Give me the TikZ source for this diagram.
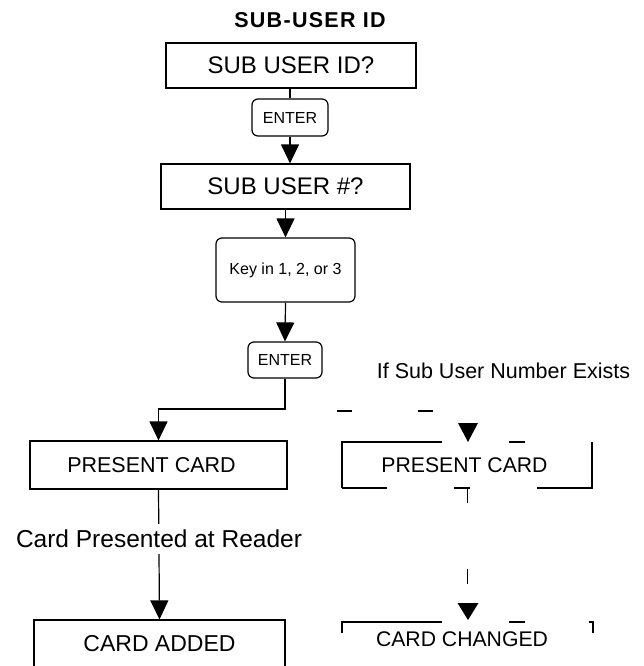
\documentclass[tikz,border=0pt]{standalone}
\usepackage{fontspec}
\setmainfont{Liberation Sans}
\usetikzlibrary{arrows.meta}
\tikzset{
  box/.style={draw, line width=1.2pt, inner sep=0pt, align=center},
  rbox/.style={box, rounded corners=6pt},
  conn/.style={line width=1.2pt},
  arr/.style={conn, -{Triangle[width=18pt,length=19pt]}},
  frag/.style={line width=1.2pt},
  plain/.style={inner sep=0pt, align=center},
}
\newcommand{\fs}[1]{\fontsize{#1}{#1}\selectfont}
\begin{document}
\begin{tikzpicture}[x=1pt,y=-1pt]
\useasboundingbox (0,0) rectangle (643,666);
\clip (0,0) rectangle (643,666);
% title
\node[plain] (title) at (310,20) {\fs{21.5}\addfontfeature{LetterSpace=6}\bfseries SUB-USER ID};
% left chain
\node[box, minimum width=250pt, minimum height=45pt] (b1) at (291,65.5) {\fs{24}SUB USER ID?};
\node[rbox, minimum width=76pt, minimum height=37pt] (e1) at (290,117.5) {\fs{16}ENTER};
\node[box, minimum width=249pt, minimum height=45pt] (b2) at (285.5,186.5) {\fs{24}SUB USER \#?};
\node[rbox, minimum width=139pt, minimum height=64pt] (key) at (285.5,270) {\fs{16}Key in 1, 2, or 3};
\node[rbox, minimum width=74pt, minimum height=36pt] (e2) at (285,360) {\fs{16}ENTER};
\node[box, minimum width=257pt, minimum height=48pt] (pc) at (158.5,465) {\fs{21.5}PRESENT CARD\hspace*{14pt}};
\node[box, minimum width=251pt, minimum height=47pt] (ca) at (159.5,643.5) {\fs{23}CARD ADDED};
\coordinate (bend) at (285,409);
\draw[conn] (e1.north |- b1.south) -- (e1.north);
\draw[arr] (e1.south) -- (e1.south |- b2.north);
\draw[arr] (b2.south) -- (key.north);
\draw[arr] (key.south) -- (e2.north);
\draw[arr] (e2.south) -- (bend) -| (pc.north);
\draw[arr] (pc.south) -- (ca.north);
\node[plain, fill=white, inner sep=6pt] (lbl) at (159,539) {\fs{24.5}Card Presented at Reader};
% right side
\node[plain] (ifx) at (503.5,371) {\fs{21.5}If Sub User Number Exists};
\node[plain] (pcr) at (464.5,465) {\fs{21.2}PRESENT CARD};
\node[plain] (cc) at (462,639) {\fs{21.2}CARD CHANGED};
\draw[frag] (337,411) -- (352,411);
\draw[frag] (418,411) -- (433,411);
\fill (458,423) -- (478,423) -- (468,442) -- cycle;
\draw[frag] (342,488) -- (342,442) -- (442,442);
\draw[frag] (509,442) -- (525,442);
\draw[frag] (537,488) -- (592,488) -- (592,442);
\draw[frag] (342,488) -- (387,488);
\draw[frag] (454,488) -- (470,488);
\draw[frag] (467.5,488) -- (467.5,503);
\draw[frag] (467.5,569) -- (467.5,584);
\fill (457.5,603) -- (478.5,603) -- (468,620) -- cycle;
\draw[frag] (342,633) -- (342,622) -- (442,622);
\draw[frag] (509,622) -- (525,622);
\draw[frag] (588.5,622) -- (593,622) -- (593,633);
\end{tikzpicture}
\end{document}
